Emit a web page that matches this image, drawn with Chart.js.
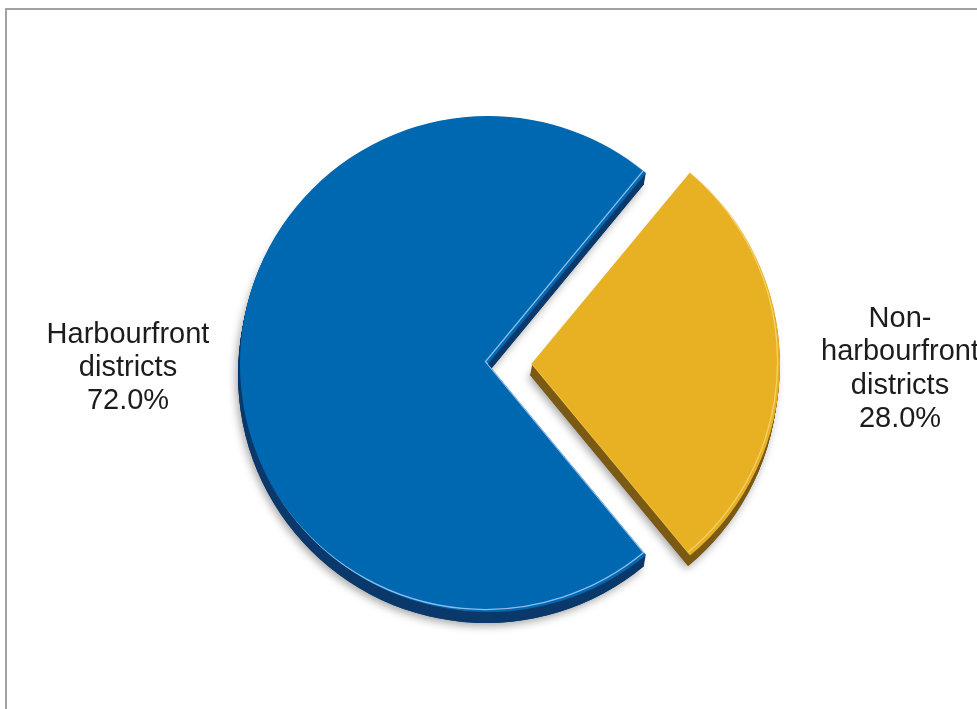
<!DOCTYPE html>
<html>
<head>
<meta charset="utf-8">
<title>Harbourfront districts share</title>
<script src="https://cdn.jsdelivr.net/npm/chart.js@4/dist/chart.umd.min.js"></script>
<style>
  html, body { margin: 0; padding: 0; background: #ffffff; }
  #wrap { width: 977px; height: 709px; position: relative; }
</style>
</head>
<body>
<div id="wrap"><canvas id="pie" width="977" height="709"></canvas></div>
<script>
// Share of the total by district type
const categories = ['Harbourfront districts', 'Non-harbourfront districts'];
const labelLines = [['Harbourfront', 'districts'], ['Non-', 'harbourfront', 'districts']];
const shares = [72.0, 28.0];

const topColors = ['#0068b0', '#e8b023'];
const sideColors = ['#0b396b', '#7a5a14'];
const edgeLights = ['rgba(150,195,240,0.95)', 'rgba(255,236,170,0.55)'];
const explode = [0, 173];

// Rebuild the wedge outline the same way ArcElement places it (offset/4 with the small-slice fix)
function wedgePath(ctx, el, dx, dy) {
  const off = (el.options.offset || 0) / 4;
  const circ = el.endAngle - el.startAngle;
  const fix = 1 - Math.sin(Math.min(Math.PI, circ));
  const half = (el.startAngle + el.endAngle) / 2;
  const t = off * (1 + fix);
  const x = el.x + Math.cos(half) * t + dx;
  const y = el.y + Math.sin(half) * t + dy;
  ctx.beginPath();
  ctx.moveTo(x, y);
  ctx.arc(x, y, el.outerRadius, el.startAngle, el.endAngle);
  ctx.closePath();
}

const framePlugin = {
  id: 'frame',
  beforeDraw(chart) {
    const ctx = chart.ctx;
    ctx.save();
    ctx.fillStyle = '#ffffff';
    ctx.fillRect(0, 0, chart.width, chart.height);
    ctx.strokeStyle = '#a2a2a6';
    ctx.lineWidth = 2;
    ctx.beginPath();
    ctx.moveTo(6, chart.height);
    ctx.lineTo(6, 9);
    ctx.lineTo(chart.width, 9);
    ctx.stroke();
    ctx.restore();
  }
};

// Extruded sides and soft shadow under each wedge, then a thin bevel light on top
const bevelPlugin = {
  id: 'bevel',
  beforeDatasetsDraw(chart) {
    const ctx = chart.ctx;
    const arcs = chart.getDatasetMeta(0).data;
    const depthX = -2, depthY = 11, steps = 11;
    arcs.forEach((el, i) => {
      ctx.save();
      ctx.shadowColor = 'rgba(0,0,0,0.35)';
      ctx.shadowBlur = 8;
      ctx.shadowOffsetX = -2;
      ctx.shadowOffsetY = 3;
      ctx.fillStyle = sideColors[i];
      wedgePath(ctx, el, depthX, depthY);
      ctx.fill();
      ctx.restore();
      ctx.save();
      ctx.fillStyle = sideColors[i];
      for (let s = steps; s >= 1; s--) {
        wedgePath(ctx, el, depthX * s / steps, depthY * s / steps);
        ctx.fill();
      }
      ctx.restore();
    });
  },
  afterDatasetsDraw(chart) {
    const ctx = chart.ctx;
    const arcs = chart.getDatasetMeta(0).data;
    arcs.forEach((el, i) => {
      ctx.save();
      wedgePath(ctx, el, 0, 0);
      ctx.clip();
      ctx.strokeStyle = edgeLights[i];
      ctx.lineWidth = 1.3;
      wedgePath(ctx, el, -2.5, -2.5);
      ctx.stroke();
      ctx.restore();
    });
  }
};

// Category name and percentage beside each wedge
const labelPlugin = {
  id: 'sliceLabels',
  afterDraw(chart) {
    const ctx = chart.ctx;
    const total = shares.reduce((a, b) => a + b, 0);
    const spots = [
      { x: 128, y: 343, step: 33 },
      { x: 900, y: 327, step: 33.3 }
    ];
    ctx.save();
    ctx.font = '29px "Liberation Sans", Arial, sans-serif';
    ctx.fillStyle = '#1c1c1c';
    ctx.textAlign = 'center';
    ctx.textBaseline = 'alphabetic';
    shares.forEach((v, i) => {
      const lines = labelLines[i].concat([(v / total * 100).toFixed(1) + '%']);
      lines.forEach((line, k) => {
        ctx.fillText(line, spots[i].x, spots[i].y + k * spots[i].step);
      });
    });
    ctx.restore();
  }
};

new Chart(document.getElementById('pie'), {
  type: 'pie',
  data: {
    labels: categories,
    datasets: [{
      data: shares,
      backgroundColor: topColors,
      borderWidth: 0,
      offset: explode,
      hoverOffset: 0
    }]
  },
  options: {
    responsive: false,
    animation: false,
    rotation: 140.4,
    layout: { padding: { top: 29.5, bottom: 10.5, left: 138, right: 139 } },
    plugins: {
      legend: { display: false },
      tooltip: { enabled: false },
      title: { display: false }
    },
    events: []
  },
  plugins: [framePlugin, bevelPlugin, labelPlugin]
});
</script>
</body>
</html>
